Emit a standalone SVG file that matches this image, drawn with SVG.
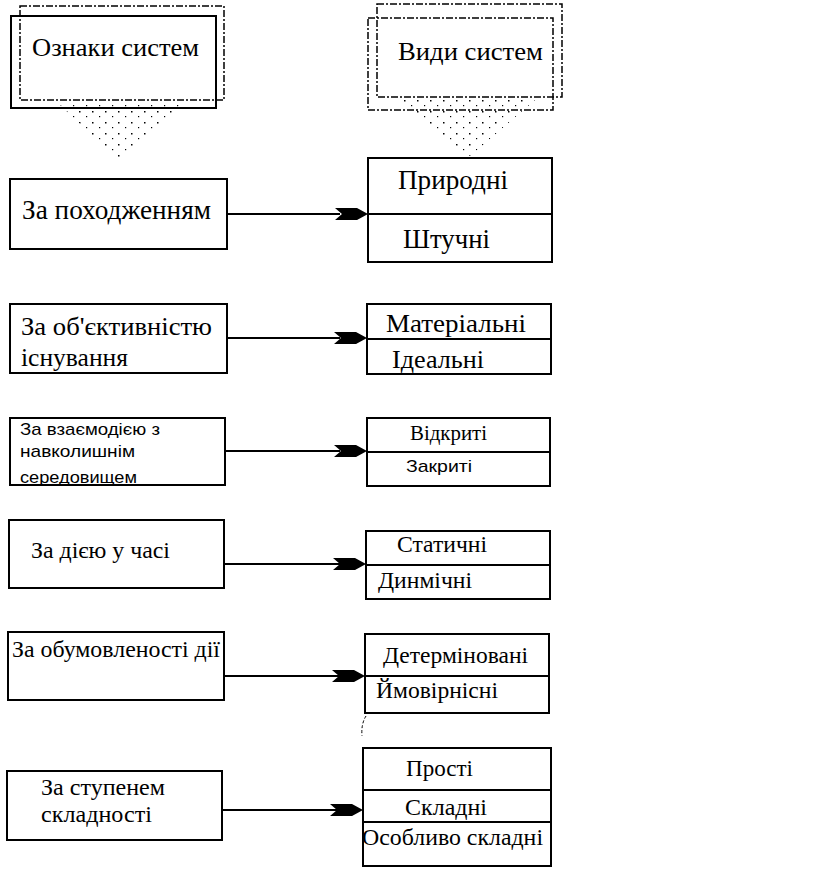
<svg xmlns="http://www.w3.org/2000/svg" width="819" height="872" viewBox="0 0 819 872">
<style>
.box{fill:#fff;stroke:#000;stroke-width:2}
.thin{fill:none;stroke:#000;stroke-width:2}
.dash{fill:none;stroke:#000;stroke-width:1.5;stroke-dasharray:7 2 2 2}
.sf{font-family:"Liberation Serif","DejaVu Serif",serif;fill:#000}
.sa{font-family:"Liberation Sans","DejaVu Sans",sans-serif;fill:#000}
.ln{stroke:#000;stroke-width:2;fill:none}
</style>
<defs>
<pattern id="dots" width="13" height="11" patternUnits="userSpaceOnUse">
<rect x="1" y="1" width="1.5" height="1.5" fill="#000"/>
<rect x="8" y="6" width="1.2" height="1.2" fill="#000"/>
</pattern>
<path id="ah" d="M0,-6 L22,-6 L33,0 L22,6 L0,6 L7,0 Z" fill="#000"/>
<clipPath id="c3"><rect x="10" y="418" width="215" height="66"/></clipPath>
</defs>

<g id="header-left">
<rect class="dash" x="20" y="6" width="204" height="94"/>
<rect class="thin" x="11" y="16" width="205" height="92"/>
<polygon points="57,102 183,102 120,162" fill="url(#dots)"/>
<text class="sf" x="32" y="56" font-size="26" textLength="167" lengthAdjust="spacingAndGlyphs">Ознаки систем</text>
</g>

<g id="header-right">
<rect class="dash" x="377" y="4" width="185" height="93"/>
<rect class="dash" x="368" y="18" width="185" height="92"/>
<polygon points="395,100 535,100 470,156" fill="url(#dots)"/>
<text class="sf" x="398" y="60" font-size="26" textLength="145" lengthAdjust="spacingAndGlyphs">Види систем</text>
</g>

<g id="row1-left">
<rect class="box" x="10" y="179" width="217" height="70"/>
<text class="sf" x="22" y="219" font-size="27" textLength="189" lengthAdjust="spacingAndGlyphs">За походженням</text>
</g>
<g id="row1-right">
<rect class="box" x="368" y="158" width="184" height="104"/>
<line class="ln" x1="368" y1="214" x2="552" y2="214"/>
<text class="sf" x="398" y="189" font-size="27" textLength="110" lengthAdjust="spacingAndGlyphs">Природні</text>
<text class="sf" x="403" y="248" font-size="27" textLength="87" lengthAdjust="spacingAndGlyphs">Штучні</text>
</g>

<g id="row2-left">
<rect class="box" x="10" y="304" width="217" height="69"/>
<text class="sf" x="21" y="335" font-size="26" textLength="191" lengthAdjust="spacingAndGlyphs">За об'єктивністю</text>
<text class="sf" x="21" y="366" font-size="26" textLength="107" lengthAdjust="spacingAndGlyphs">існування</text>
</g>
<g id="row2-right">
<rect class="box" x="367" y="304" width="184" height="70"/>
<line class="ln" x1="367" y1="339" x2="551" y2="339"/>
<text class="sf" x="386" y="332" font-size="26" textLength="140" lengthAdjust="spacingAndGlyphs">Матеріальні</text>
<text class="sf" x="392" y="368" font-size="26" textLength="92" lengthAdjust="spacingAndGlyphs">Ідеальні</text>
</g>

<g id="row3-left">
<rect class="box" x="10" y="418" width="215" height="67"/>
<g clip-path="url(#c3)">
<text class="sa" x="20" y="435" font-size="17" textLength="140" lengthAdjust="spacingAndGlyphs">За взаємодією з</text>
<text class="sa" x="20" y="457" font-size="17" textLength="115" lengthAdjust="spacingAndGlyphs">навколишнім</text>
<text class="sa" x="20" y="483" font-size="17" textLength="117" lengthAdjust="spacingAndGlyphs">середовищем</text>
</g>
</g>
<g id="row3-right">
<rect class="box" x="367" y="418" width="183" height="68"/>
<line class="ln" x1="367" y1="452" x2="550" y2="452"/>
<text class="sf" x="410" y="440" font-size="20" textLength="77" lengthAdjust="spacingAndGlyphs">Відкриті</text>
<text class="sa" x="406" y="472" font-size="17" textLength="66" lengthAdjust="spacingAndGlyphs">Закриті</text>
</g>

<g id="row4-left">
<rect class="box" x="9" y="520" width="215" height="68"/>
<text class="sf" x="31" y="558" font-size="24" textLength="139" lengthAdjust="spacingAndGlyphs">За дією у часі</text>
</g>
<g id="row4-right">
<rect class="box" x="366" y="531" width="184" height="68"/>
<line class="ln" x1="366" y1="565" x2="550" y2="565"/>
<text class="sf" x="397" y="552" font-size="23" textLength="90" lengthAdjust="spacingAndGlyphs">Статичні</text>
<text class="sf" x="378" y="588" font-size="23" textLength="94" lengthAdjust="spacingAndGlyphs">Динмічні</text>
</g>

<g id="row5-left">
<rect class="box" x="8" y="632" width="216" height="68"/>
<text class="sf" x="12" y="657" font-size="23" textLength="208" lengthAdjust="spacingAndGlyphs">За обумовленості дії</text>
</g>
<g id="row5-right">
<rect class="box" x="365" y="634" width="184" height="79"/>
<line class="ln" x1="365" y1="676" x2="549" y2="676"/>
<text class="sf" x="383" y="663" font-size="23" textLength="145" lengthAdjust="spacingAndGlyphs">Детерміновані</text>
<text class="sf" x="376" y="698" font-size="23" textLength="122" lengthAdjust="spacingAndGlyphs">Ймовірнісні</text>
<path d="M366,716 Q361,724 362,736" fill="none" stroke="#000" stroke-width="1" stroke-dasharray="3 2"/>
</g>

<g id="row6-left">
<rect class="box" x="7" y="771" width="215" height="69"/>
<text class="sf" x="41" y="795" font-size="23" textLength="124" lengthAdjust="spacingAndGlyphs">За ступенем</text>
<text class="sf" x="41" y="822" font-size="23" textLength="111" lengthAdjust="spacingAndGlyphs">складності</text>
</g>
<g id="row6-right">
<rect class="box" x="363" y="748" width="188" height="118"/>
<line class="ln" x1="363" y1="790" x2="551" y2="790"/>
<line class="ln" x1="363" y1="822" x2="551" y2="822"/>
<text class="sf" x="406" y="776" font-size="23" textLength="67" lengthAdjust="spacingAndGlyphs">Прості</text>
<text class="sf" x="405" y="815" font-size="23" textLength="82" lengthAdjust="spacingAndGlyphs">Складні</text>
<text class="sf" x="362" y="845" font-size="23" textLength="181" lengthAdjust="spacingAndGlyphs">Особливо складні</text>
</g>

<g id="connectors">
<line class="ln" x1="227" y1="214" x2="340" y2="214"/><use href="#ah" x="335" y="214"/>
<line class="ln" x1="227" y1="338" x2="340" y2="338"/><use href="#ah" x="334" y="338"/>
<line class="ln" x1="225" y1="451" x2="340" y2="451"/><use href="#ah" x="334" y="451"/>
<line class="ln" x1="224" y1="564" x2="340" y2="564"/><use href="#ah" x="333" y="564"/>
<line class="ln" x1="224" y1="676" x2="340" y2="676"/><use href="#ah" x="332" y="676"/>
<line class="ln" x1="222" y1="810" x2="340" y2="810"/><use href="#ah" x="330" y="810"/>
</g>
</svg>
